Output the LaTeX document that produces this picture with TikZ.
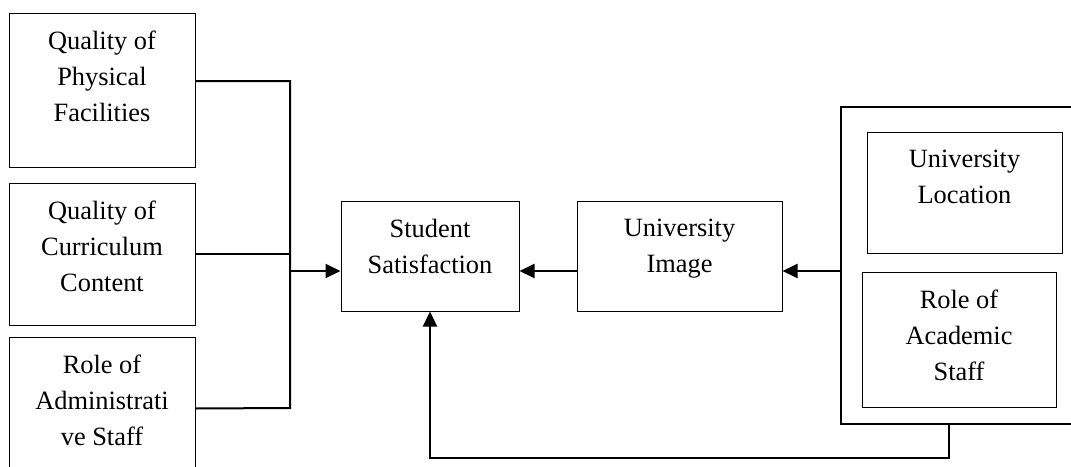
\documentclass[tikz,border=0pt]{standalone}
\usepackage{fontspec}
\setmainfont{Liberation Serif}
\usepackage{tikz}
\usetikzlibrary{arrows.meta, positioning}

\tikzset{
  box/.style={draw, line width=0.5pt, minimum width=93pt, inner sep=0pt},
  grpbox/.style={draw, line width=1pt, inner sep=0pt},
  lbl/.style={align=center, inner sep=0pt, font={\fontsize{13.2}{18}\selectfont}},
  wire/.style={line width=1pt},
  arr/.style={line width=1pt, -{Triangle[length=7.5pt,width=7pt]}}
}

\begin{document}
\begin{tikzpicture}[x=0.5pt, y=-0.5pt]
  \useasboundingbox (0,0) rectangle (1071,466);
  \clip (0,0) rectangle (1071,466);

  % left factors
  \node[box, minimum height=77pt] (phys) at (102,90) {};
  \node[box, minimum height=71pt] (curr) at (102,254) {};
  \node[box, minimum height=71.5pt] (admin) at (102,408.5) {};
  \node[lbl, below=9pt of phys.north] (physT) {Quality of\\Physical\\Facilities};
  \node[lbl, below=9pt of curr.north] (currT) {Quality of\\Curriculum\\Content};
  \node[lbl, below=9pt of admin.north] (adminT) {Role of\\Administrati\\ve Staff};

  % middle
  \node[box, minimum width=89pt, minimum height=55pt] (sat) at (430,256) {};
  \node[box, minimum width=102.5pt, minimum height=55pt] (img) at (679.5,256) {};
  \node[lbl, below=9pt of sat.north] (satT) {Student\\Satisfaction};
  \node[lbl, below=9pt of img.north] (imgT) {University\\Image};

  % right group
  \node[grpbox, minimum width=124.5pt, minimum height=158.5pt] (grp) at (965.5,265.5) {};
  \node[box, minimum width=97.5pt, minimum height=60.5pt] (loc) at (964.5,192.5) {};
  \node[box, minimum width=97pt, minimum height=67.5pt] (acad) at (959,339.5) {};
  \node[lbl, below=9pt of loc.north] (locT) {University\\Location};
  \node[lbl, below=9pt of acad.north] (acadT) {Role of\\Academic\\Staff};

  \coordinate (jt) at (290,81);
  \coordinate (bus) at (290,271);
  \coordinate (jb) at (290,408);
  \coordinate (fb) at (949,458);

  \draw[wire] ([yshift=4.5pt]phys.east) -- (jt) -- (jb) -- (admin.east);
  \draw[wire] (curr.east) -- (curr.east -| jt);
  \draw[arr] (bus) -- (bus -| sat.west);
  \draw[arr] (img.west |- bus) -- (sat.east |- bus);
  \draw[arr] (grp.west |- bus) -- (img.east |- bus);
  \draw[arr] (grp.south -| fb) -- (fb) -| (sat.south);
\end{tikzpicture}
\end{document}
